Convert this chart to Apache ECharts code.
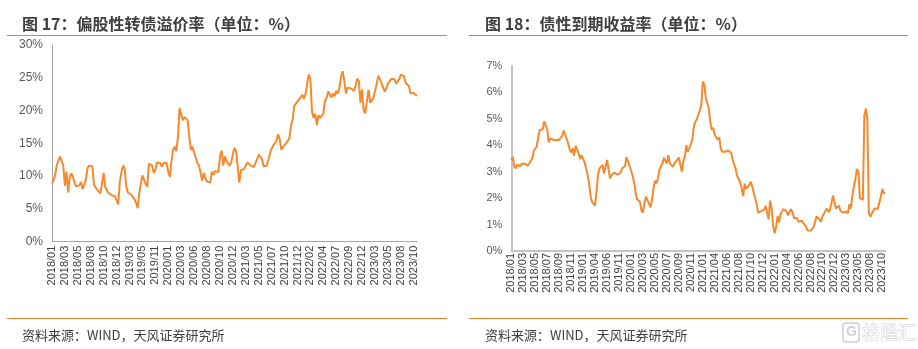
<!DOCTYPE html>
<html><head><meta charset="utf-8">
<script src="https://cdn.jsdelivr.net/npm/echarts@6/dist/echarts.min.js"></script>
<style>html,body{margin:0;padding:0;background:#fff}#c{width:918px;height:349px}</style>
</head><body><div id="c"></div>
<script>
// ---- Left chart: 偏股性转债溢价率 (%) ----
const premiumTicks = ['2018/01','2018/03','2018/05','2018/08','2018/10','2018/12','2019/03','2019/05','2019/11','2020/01','2020/03','2020/06','2020/08','2020/10','2020/12','2021/03','2021/05','2021/07','2021/10','2021/12','2022/02','2022/04','2022/07','2022/09','2022/12','2023/03','2023/05','2023/08','2023/10'];
const premiumValues = [
8.9,9.4,10.2,11.7,11.4,13.0,12.8,11.6,8.5,10.7,7.5,9.9,10.4,9.9,9.0,8.4,8.1,8.6,9.1,8.0,8.3,9.5,11.2,11.6,11.6,11.5,8.7,8.6,7.9,8.1,
7.4,7.5,10.5,8.3,7.8,7.4,7.5,7.1,7.1,6.9,6.6,5.7,9.1,10.6,11.6,11.2,8.4,7.5,7.2,7.2,6.9,6.5,6.0,5.1,7.3,8.9,10.1,10.0,8.8,8.4,
11.9,11.8,11.6,10.5,10.9,12.1,12.3,12.0,11.4,12.0,12.1,12.0,10.6,9.9,12.3,14.0,14.5,13.8,16.0,20.4,20.4,18.5,19.0,19.3,18.5,16.0,14.0,14.5,13.6,12.8,
12.0,11.6,10.5,9.3,10.5,9.6,9.2,9.4,9.0,10.7,10.2,10.8,11.1,10.6,13.0,13.9,11.6,13.0,12.3,12.2,11.6,12.1,13.4,14.3,13.8,11.4,9.0,10.9,10.9,11.1,
10.8,12.1,11.9,11.6,11.3,11.4,11.7,12.6,13.3,13.1,12.6,11.5,11.4,11.6,12.5,13.5,14.2,14.7,14.7,15.4,16.4,15.6,14.0,14.5,14.8,15.0,14.8,15.8,17.7,18.6,
20.7,20.8,21.4,21.5,22.0,22.4,21.8,22.5,24.0,25.5,24.8,19.8,18.9,19.5,17.8,19.3,18.9,18.9,19.5,21.5,21.9,22.9,22.7,22.0,22.6,22.2,23.0,22.6,23.5,25.2,
26.0,24.5,22.6,23.5,23.3,23.4,23.6,23.0,23.8,24.9,24.5,21.2,23.2,20.0,19.6,21.5,23.2,21.2,21.4,21.9,22.2,24.0,25.3,24.8,24.2,24.5,22.9,23.4,24.1,23.8,
24.8,24.8,24.8,24.1,24.3,24.8,25.5,25.8,25.2,24.2,24.5,23.7,22.6,22.4,22.7,22.8,22.2];

// ---- Right chart: 债性到期收益率 (%) ----
const ytmTicks = ['2018/01','2018/03','2018/05','2018/07','2018/09','2018/11','2019/01','2019/04','2019/06','2019/11','2020/01','2020/03','2020/05','2020/07','2020/09','2020/11','2021/01','2021/04','2021/06','2021/08','2021/10','2021/12','2022/01','2022/04','2022/06','2022/08','2022/10','2022/12','2023/03','2023/05','2023/08','2023/10'];
const ytmValues = [
3.44,3.55,3.2,3.12,3.27,3.22,3.2,3.3,3.36,3.3,3.26,3.22,3.3,3.34,3.5,3.78,3.83,3.95,4.3,4.57,4.57,4.6,4.9,4.75,4.6,4.1,4.25,4.24,4.2,4.17,
4.18,4.14,4.2,4.25,4.35,4.55,4.55,4.25,4.05,3.85,3.72,3.88,3.6,3.97,3.92,3.7,3.48,3.62,3.6,3.35,3.12,2.88,2.55,2.07,1.85,1.83,1.72,2.28,2.9,3.12,
3.12,3.25,2.93,3.18,3.44,3.4,2.74,2.87,2.85,2.96,2.95,2.88,2.83,2.95,3.12,3.18,3.2,3.55,3.56,3.22,3.05,2.85,2.62,2.25,1.96,1.93,1.86,1.53,1.45,1.82,
2.05,1.98,1.8,1.65,1.9,2.35,2.65,2.55,2.74,3.06,3.2,3.3,3.52,3.45,3.3,3.62,3.3,3.31,3.18,3.3,3.37,3.45,3.53,3.46,3.0,3.4,3.55,4.0,3.75,3.88,
3.9,4.2,4.7,4.87,4.98,5.14,5.18,5.5,6.4,6.3,5.8,5.75,5.38,4.9,4.57,4.65,4.38,4.33,4.2,4.3,3.88,3.75,3.7,3.75,3.68,3.8,3.86,3.7,3.45,3.26,
3.1,2.83,2.72,2.58,2.37,2.08,2.55,2.35,2.4,2.48,2.62,2.45,2.22,2.0,1.78,1.45,1.45,1.5,1.53,1.56,1.7,1.75,1.2,1.9,1.62,0.98,0.67,0.9,1.32,1.08,
1.4,1.5,1.58,1.58,1.49,1.35,1.36,1.58,1.45,1.25,1.2,1.25,1.1,1.05,1.15,1.07,1.0,0.93,0.78,0.73,0.76,0.83,0.9,1.1,1.3,1.36,1.2,1.1,1.3,1.25,
1.52,1.6,1.47,1.55,1.8,2.1,2.1,1.6,1.65,1.72,1.52,1.49,1.45,1.42,1.5,1.42,1.77,1.6,2.1,2.43,2.7,3.1,3.0,2.0,1.95,1.93,5.1,5.39,5.0,1.42,
1.3,1.42,1.45,1.61,1.64,1.6,1.6,2.05,2.35,2.18,2.2];

const STEP = 8; // data points per labelled category interval
function buildCats(ticks, n) {
  const out = [];
  for (let i = 0; i < n; i++) {
    const t = ticks[Math.min(Math.floor(i / STEP), ticks.length - 1)];
    out.push(i % STEP === 0 ? t : t + '#' + i);
  }
  return out;
}
const leftCats = buildCats(premiumTicks, premiumValues.length);
const rightCats = buildCats(ytmTicks, ytmValues.length);

const ORANGE_LINE = '#F5892B';
const RULE = '#ED7D31';
const numFont = "'Liberation Sans', Arial, sans-serif";
const cjkFont = "'Noto Sans CJK SC', 'Liberation Sans', sans-serif";

const chart = echarts.init(document.getElementById('c'), null, {renderer: 'canvas'});
function xAxisCfg(gridIndex, cats, margin) {
  return {
    type: 'category', gridIndex, data: cats, boundaryGap: false,
    axisLine: {show: true, lineStyle: {color: gridIndex === 0 ? '#a6a6a6' : '#c4c4c4', width: gridIndex === 0 ? 1 : 2}},
    axisTick: {show: false},
    axisLabel: {
      interval: (idx) => idx % STEP === 0,
      rotate: 90, margin, fontSize: 11, color: '#404040', fontFamily: numFont,
      formatter: (v) => v
    },
    splitLine: {show: false}
  };
}
function yAxisCfg(gridIndex, max, interval, fs) {
  return {
    type: 'value', gridIndex, min: 0, max, interval,
    axisLine: {show: true, lineStyle: {color: gridIndex === 0 ? '#a6a6a6' : '#c4c4c4', width: gridIndex === 0 ? 1 : 2}},
    axisTick: {show: false},
    splitLine: {show: false},
    axisLabel: {formatter: '{value}%', fontSize: fs, color: '#595959', fontFamily: numFont, margin: 9}
  };
}

chart.setOption({
  animation: false,
  backgroundColor: '#fff',
  title: [
    {text: '图 17：偏股性转债溢价率（单位：%）', left: 17, top: 11,
     textStyle: {fontSize: 16, fontWeight: 'bold', color: '#404040', fontFamily: cjkFont}},
    {text: '图 18：债性到期收益率（单位：%）', left: 480, top: 11,
     textStyle: {fontSize: 16, fontWeight: 'bold', color: '#404040', fontFamily: cjkFont}},
    {text: '资料来源：WIND，天风证券研究所', left: 17, top: 324,
     textStyle: {fontSize: 13, fontWeight: 'normal', color: '#404040', fontFamily: cjkFont}},
    {text: '资料来源：WIND，天风证券研究所', left: 480, top: 324,
     textStyle: {fontSize: 13, fontWeight: 'normal', color: '#404040', fontFamily: cjkFont}}
  ],
  grid: [
    {left: 52, top: 45, width: 365, height: 196.7},
    {left: 511.3, top: 65.7, width: 374, height: 185.3}
  ],
  xAxis: [xAxisCfg(0, leftCats, 4), xAxisCfg(1, rightCats, 2)],
  yAxis: [yAxisCfg(0, 30, 5, 12), yAxisCfg(1, 7, 1, 11)],
  series: [
    {type: 'line', xAxisIndex: 0, yAxisIndex: 0, data: premiumValues, showSymbol: false,
     lineStyle: {color: ORANGE_LINE, width: 2}, itemStyle: {color: ORANGE_LINE}},
    {type: 'line', xAxisIndex: 1, yAxisIndex: 1, data: ytmValues, showSymbol: false,
     lineStyle: {color: ORANGE_LINE, width: 2}, itemStyle: {color: ORANGE_LINE}}
  ],
  graphic: [
    {type: 'line', shape: {x1: 7, y1: 35.5, x2: 447, y2: 35.5}, style: {stroke: RULE, lineWidth: 1}},
    {type: 'line', shape: {x1: 469, y1: 35.5, x2: 908, y2: 35.5}, style: {stroke: RULE, lineWidth: 1}},
    {type: 'line', shape: {x1: 7, y1: 318.5, x2: 447, y2: 318.5}, style: {stroke: RULE, lineWidth: 1}},
    {type: 'line', shape: {x1: 469, y1: 318.5, x2: 908, y2: 318.5}, style: {stroke: RULE, lineWidth: 1}},
    {type: 'rect', shape: {x: 843, y: 323, width: 16, height: 19, r: 3}, style: {fill: 'none', stroke: '#d0d0d0', lineWidth: 1.5}},
    {type: 'text', style: {x: 846, y: 325, text: 'G', font: "bold 14px 'Liberation Sans'", fill: '#d0d0d0'}},
    {type: 'text', style: {x: 862, y: 323, text: '格隆汇', font: "18px 'Noto Sans CJK SC'", fill: '#ffffff', stroke: '#cfcfcf', lineWidth: 1}}
  ]
});
</script>
</body></html>
